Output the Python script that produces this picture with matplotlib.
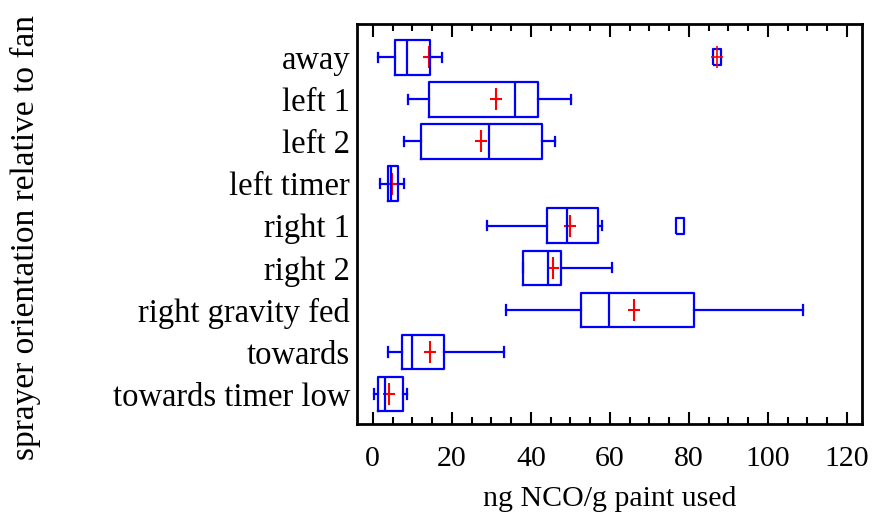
import matplotlib
matplotlib.use('Agg')
import matplotlib.pyplot as plt
from matplotlib.ticker import MultipleLocator

# groups, top to bottom
groups = ['away', 'left 1', 'left 2', 'left timer', 'right 1', 'right 2',
          'right gravity fed', 'towards', 'towards timer low']
whislo = [1.3, 8.9, 8.0, 1.8, 28.9, 37.9, 33.7, 3.8, 0.4]
q1 = [5.5, 14.2, 12.2, 3.9, 44.0, 38.1, 52.7, 7.5, 1.3]
med = [8.6, 35.9, 29.4, 4.6, 49.1, 44.3, 59.7, 10.0, 3.0]
q3 = [14.5, 41.7, 42.9, 6.3, 57.0, 47.7, 81.2, 18.1, 7.7]
whishi = [17.5, 50.2, 46.2, 7.9, 58.1, 60.6, 108.9, 33.2, 8.7]
means = [14.3, 31.1, 27.4, 4.8, 50.0, 45.5, 66.0, 14.5, 4.2]
outliers = [[87.0], [], [], [], [77.8], [], [], [], []]

plt.rcParams['font.family'] = ['Liberation Serif', 'DejaVu Serif']

stats = []
for i, g in enumerate(groups):
    stats.append({'label': g, 'whislo': whislo[i], 'q1': q1[i], 'med': med[i],
                  'q3': q3[i], 'whishi': whishi[i], 'fliers': outliers[i]})

fig = plt.figure(figsize=(8.76, 5.17), dpi=100)
ax = fig.add_axes([357/876, 1-424/517, (862-357)/876, (424-24)/517])

pos = list(range(len(groups), 0, -1))
blue = '#0000ff'
rect = [(-1, -2), (1, -2), (1, 2), (-1, 2), (-1, -2)]
ax.bxp(stats, positions=pos, vert=False, widths=0.82, showfliers=True,
       capwidths=0.22, zorder=3,
       boxprops=dict(color=blue, lw=1.6),
       medianprops=dict(color=blue, lw=1.6),
       whiskerprops=dict(color=blue, lw=1.6),
       capprops=dict(color=blue, lw=1.6),
       flierprops=dict(marker=rect, markerfacecolor='none', markeredgecolor=blue,
                       markersize=12, mew=1.6))

# mean crosses, taller than wide, drawn under the boxes
ax.plot(means, pos, ls='none', marker='|', color='red', ms=16, mew=1.5, zorder=2)
ax.plot(means, pos, ls='none', marker='_', color='red', ms=9, mew=1.5, zorder=2)
# red cross at the away outlier
ax.plot(outliers[0], [pos[0]], ls='none', marker='|', color='red', ms=16, mew=1.2, zorder=4)
ax.plot(outliers[0], [pos[0]], ls='none', marker='_', color='red', ms=9, mew=1.2, zorder=4)

ax.set_xlim(-4, 123.8)
ax.set_ylim(0.29, 9.79)
ax.set_yticks(pos)
ax.set_yticklabels(groups)
ax.xaxis.set_major_locator(MultipleLocator(20))
ax.xaxis.set_minor_locator(MultipleLocator(5))
ax.tick_params(axis='x', which='both', direction='in', top=True, bottom=True,
               labelsize=21.5, width=1.5, pad=16)
ax.tick_params(axis='x', which='major', length=9)
ax.tick_params(axis='x', which='minor', length=5)
ax.tick_params(axis='y', length=0, labelsize=23.5, pad=5)
for s in ax.spines.values():
    s.set_linewidth(2)

ax.set_xlabel('ng NCO/g paint used', fontsize=21.5, labelpad=10)
fig.text(25/876, 1-237/517, 'sprayer orientation relative to fan', rotation=90,
         ha='center', va='center', fontsize=24)

fig.savefig('out.png', dpi=100)
